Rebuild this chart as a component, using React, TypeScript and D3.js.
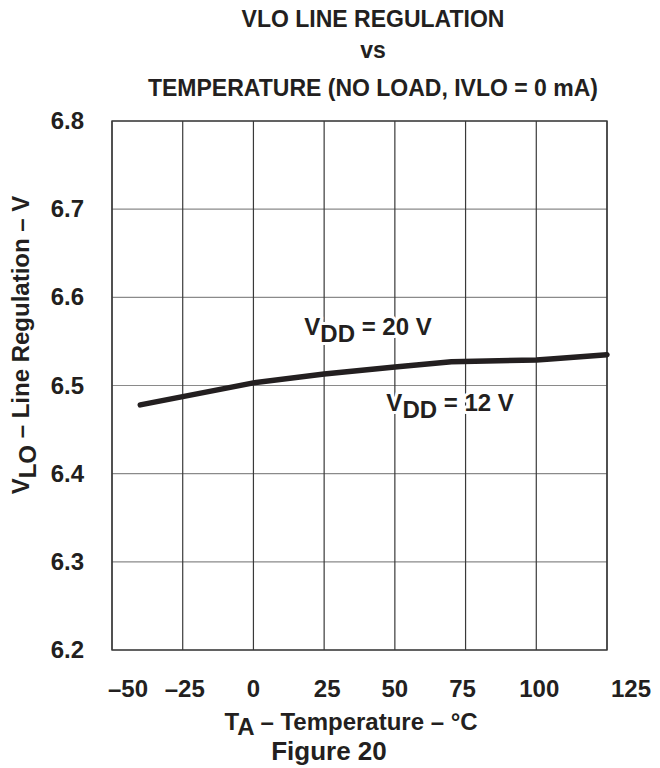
import React from "react";
import * as d3 from "d3";

const temps = [-40, 0, 25, 50, 70, 100, 105, 125];
const vloValues = [6.478, 6.503, 6.513, 6.521, 6.527, 6.529, 6.530, 6.535];
const xTicks = [-50, -25, 0, 25, 50, 75, 100, 125];
const yTicks = [6.2, 6.3, 6.4, 6.5, 6.6, 6.7, 6.8];
const titleLines = ["VLO LINE REGULATION", "vs", "TEMPERATURE (NO LOAD, IVLO = 0 mA)"];

const W = 660;
const H = 768;
const M = { left: 112, right: 53, top: 121, bottom: 118 };
const FONT = "'Liberation Sans', Arial, Helvetica, sans-serif";
const xLabelNudge = [16, 2, 0, 3, 0, -3, 3, 24];
const INK = "#231f20";

export default function App() {
  const x = d3.scaleLinear().domain([-50, 125]).range([M.left, W - M.right]);
  const y = d3.scaleLinear().domain([6.2, 6.8]).range([H - M.bottom, M.top]);
  const line = d3
    .line<number>()
    .x((_, i) => x(temps[i]))
    .y((d) => y(d))
    .curve(d3.curveLinear);

  const x0 = x(-50), x1 = x(125), y0 = y(6.2), y1 = y(6.8);
  const halo = { stroke: "#fff", strokeWidth: 6, paintOrder: "stroke" as const, strokeLinejoin: "round" as const };
  const titleBase = [27, 58, 96];

  return (
    <svg width={W} height={H} style={{ position: "absolute", left: 0, top: 0, background: "#fff" }} fontFamily={FONT}>
      <rect x={0} y={0} width={W} height={H} fill="#fff" />
      {titleLines.map((t, i) => (
        <text key={i} x={373} y={titleBase[i]} textAnchor="middle" fontSize={23} fontWeight="bold" fill={INK}>
          {t}
        </text>
      ))}
      {yTicks.map((t) => (
        <line key={"h" + t} x1={x0} x2={x1} y1={y(t)} y2={y(t)} stroke="#8a8a8a" strokeWidth={1.2} />
      ))}
      {xTicks.map((t) => (
        <line key={"v" + t} x1={x(t)} x2={x(t)} y1={y1} y2={y0} stroke="#3a3a3a" strokeWidth={1.2} />
      ))}
      <rect x={x0} y={y1} width={x1 - x0} height={y0 - y1} fill="none" stroke="#3a3a3a" strokeWidth={1.4} />
      <path d={line(vloValues) || ""} fill="none" stroke={INK} strokeWidth={5.5} strokeLinecap="round" strokeLinejoin="round" />
      <text x={x(18)} y={y(6.557)} fontSize={24} fontWeight="bold" fill={INK} {...halo}>
        V<tspan dy={7}>DD</tspan><tspan dy={-7}> = 20 V</tspan>
      </text>
      <text x={x(47)} y={y(6.471)} fontSize={24} fontWeight="bold" fill={INK} {...halo}>
        V<tspan dy={7}>DD</tspan><tspan dy={-7}> = 12 V</tspan>
      </text>
      {yTicks.map((t) => (
        <text key={"yl" + t} x={84} y={y(t) + 8} textAnchor="end" fontSize={24} fontWeight="bold" fill={INK}>
          {t.toFixed(1)}
        </text>
      ))}
      {xTicks.map((t, i) => (
        <text key={"xl" + t} x={x(t) + xLabelNudge[i]} y={697} textAnchor="middle" fontSize={24} fontWeight="bold" fill={INK}>
          {t < 0 ? "\u2013" + Math.abs(t) : String(t)}
        </text>
      ))}
      <text transform={`translate(29, 345) rotate(-90)`} textAnchor="middle" fontSize={24} fontWeight="bold" fill={INK}>
        V<tspan dy={7}>LO</tspan><tspan dy={-7}> – Line Regulation – V</tspan>
      </text>
      <text x={351} y={730} textAnchor="middle" fontSize={24} fontWeight="bold" fill={INK}>
        T<tspan dy={5}>A</tspan><tspan dy={-5}> – Temperature – °C</tspan>
      </text>
      <text x={329} y={760} textAnchor="middle" fontSize={26} fontWeight="bold" fill={INK}>
        Figure 20
      </text>
    </svg>
  );
}
